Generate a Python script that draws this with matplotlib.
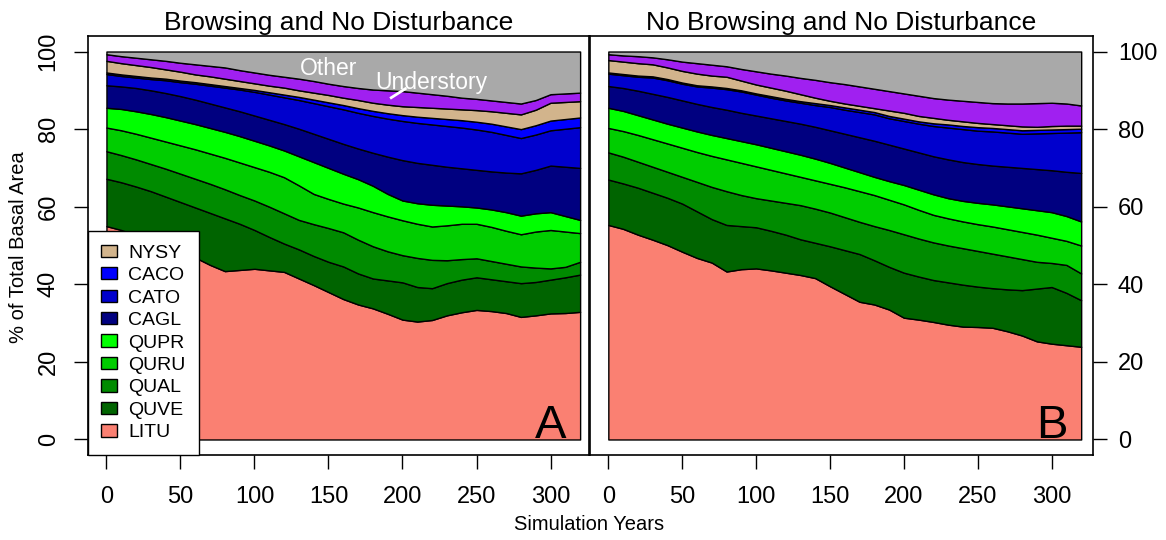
import numpy as np
import matplotlib
matplotlib.use("Agg")
import matplotlib.pyplot as plt
from matplotlib.patches import Patch

plt.rcParams['font.family'] = ['Liberation Sans', 'DejaVu Sans']

years = list(range(0, 321, 10))

# top of each layer (cumulative % of total basal area), panel A: browsing
a_litu = [55.0, 54.0, 52.7, 51.3, 50.0, 48.3, 46.9, 45.0, 43.4, 43.7, 44.0, 43.6, 43.2, 41.5, 39.8, 38.0, 36.2,
          34.8, 33.8, 32.4, 30.9, 30.4, 30.8, 32.0, 32.8, 33.4, 33.1, 32.6, 31.6, 32.0, 32.5, 32.6, 32.9]
a_quve = [67.2, 66.3, 65.2, 64.0, 62.6, 61.2, 59.8, 58.4, 57.0, 55.6, 54.0, 52.2, 50.5, 49.0, 47.3, 45.8, 44.6,
          42.8, 41.5, 41.0, 40.5, 39.3, 39.0, 40.3, 41.2, 41.8, 41.3, 40.8, 40.3, 40.6, 41.2, 41.8, 42.5]
a_qual = [74.3, 73.3, 72.2, 71.0, 69.8, 68.5, 67.2, 65.9, 64.5, 63.0, 61.6, 60.0, 58.3, 56.6, 55.5, 54.5, 53.4,
          51.5, 49.8, 48.5, 47.5, 46.8, 46.3, 46.2, 46.5, 46.7, 46.0, 45.3, 44.6, 44.3, 44.1, 44.5, 45.8]
a_quru = [80.4, 79.7, 78.8, 77.8, 76.8, 75.8, 74.8, 73.7, 72.6, 71.4, 70.2, 69.0, 67.6, 65.5, 63.3, 62.0, 60.8,
          59.8, 58.6, 57.5, 56.5, 55.6, 54.9, 55.2, 55.6, 55.6, 54.8, 53.8, 52.9, 53.6, 54.0, 53.6, 53.2]
a_qupr = [85.5, 85.2, 84.6, 83.9, 83.1, 82.2, 81.3, 80.3, 79.3, 78.2, 77.0, 75.8, 74.5, 73.0, 71.5, 70.0, 68.5,
          67.1, 65.4, 63.3, 61.6, 60.9, 60.5, 60.3, 60.1, 59.8, 59.3, 58.6, 57.7, 58.3, 58.6, 57.6, 56.6]
a_cagl = [91.3, 91.0, 90.6, 90.0, 89.3, 88.5, 87.6, 86.6, 85.6, 84.6, 83.5, 82.4, 81.3, 80.1, 78.8, 77.5, 76.2,
          75.0, 73.9, 72.9, 72.0, 71.3, 70.8, 70.3, 69.9, 69.5, 69.1, 68.8, 68.6, 69.5, 70.6, 70.3, 70.0]
a_cato = [94.2, 93.7, 93.3, 92.9, 92.6, 92.1, 91.7, 91.2, 90.7, 90.2, 89.6, 88.9, 88.2, 87.5, 86.7, 85.9, 85.1,
          84.2, 83.4, 82.7, 82.1, 81.6, 81.2, 80.8, 80.4, 79.9, 79.3, 78.5, 77.7, 78.6, 79.7, 80.1, 80.5]
a_caco = [94.6, 94.1, 93.7, 93.3, 93.0, 92.5, 92.1, 91.6, 91.1, 90.6, 90.1, 89.5, 88.9, 88.3, 87.6, 86.9, 86.2,
          85.4, 84.7, 84.1, 83.6, 83.2, 82.9, 82.6, 82.3, 81.9, 81.4, 80.7, 80.0, 81.0, 82.2, 82.6, 83.0]
a_nysy = [97.6, 97.0, 96.5, 96.0, 95.4, 94.8, 94.1, 93.6, 93.0, 92.4, 91.8, 91.2, 90.7, 90.0, 89.4, 88.8, 88.1,
          87.5, 86.8, 86.3, 85.9, 85.7, 85.5, 85.3, 85.1, 84.9, 84.6, 84.2, 83.8, 85.0, 86.8, 87.0, 87.2]
a_und = [99.3, 98.8, 98.4, 98.0, 97.6, 97.1, 96.7, 96.3, 95.9, 95.2, 94.6, 94.0, 93.5, 93.0, 92.4, 91.7, 91.1,
         90.6, 90.2, 90.0, 89.8, 89.4, 89.0, 88.6, 88.1, 87.8, 87.4, 87.0, 86.6, 87.5, 89.0, 89.2, 89.4]

# panel B: no browsing
b_litu = [55.3, 54.3, 52.8, 51.5, 50.1, 48.4, 46.8, 45.6, 43.3, 43.9, 44.1, 43.6, 43.0, 42.4, 41.6, 39.5, 37.5,
          35.5, 34.8, 33.5, 31.4, 30.9, 30.3, 29.6, 29.1, 29.0, 28.8, 27.9, 26.8, 25.3, 24.7, 24.3, 23.9]
b_quve = [67.0, 66.0, 64.9, 63.6, 62.3, 60.8, 58.8, 56.8, 55.3, 55.0, 54.7, 53.8, 52.8, 51.6, 50.7, 49.8, 48.8,
          47.8, 46.2, 44.5, 43.0, 42.0, 41.1, 40.5, 39.9, 39.4, 39.0, 38.7, 38.5, 38.9, 39.3, 37.8, 35.9]
b_qual = [74.0, 72.9, 71.6, 70.3, 69.0, 67.7, 66.4, 65.1, 64.0, 63.0, 62.2, 61.6, 61.0, 60.4, 59.5, 58.5, 57.3,
          56.1, 55.0, 54.0, 52.9, 51.8, 50.8, 50.0, 49.3, 48.6, 47.9, 47.2, 46.5, 45.8, 45.5, 45.0, 42.8]
b_quru = [80.3, 79.5, 78.5, 77.4, 76.3, 75.2, 74.1, 73.1, 72.2, 71.3, 70.4, 69.5, 68.6, 67.7, 66.8, 65.9, 65.0,
          64.0, 63.0, 61.8, 60.6, 59.2, 57.9, 57.0, 56.2, 55.5, 54.9, 54.2, 53.5, 52.8, 52.0, 51.2, 50.0]
b_qupr = [85.5, 84.7, 83.6, 82.5, 81.4, 80.4, 79.4, 78.5, 77.7, 76.9, 76.1, 75.2, 74.3, 73.4, 72.4, 71.3, 70.1,
          68.9, 67.7, 66.6, 65.6, 64.4, 63.2, 62.2, 61.5, 61.0, 60.6, 60.1, 59.6, 59.1, 58.6, 57.6, 56.2]
b_cagl = [91.1, 90.6, 89.9, 89.1, 88.3, 87.4, 86.5, 85.7, 85.0, 84.2, 83.5, 82.8, 82.1, 81.4, 80.6, 79.7, 78.8,
          77.9, 77.0, 76.0, 75.0, 74.0, 73.0, 72.2, 71.5, 71.0, 70.6, 70.3, 70.0, 69.7, 69.4, 69.0, 68.7]
b_cato = [94.3, 93.9, 93.5, 93.3, 92.6, 91.7, 91.0, 90.7, 90.3, 89.7, 88.9, 88.1, 87.4, 86.8, 86.2, 85.7, 85.0,
          84.4, 83.8, 82.8, 82.1, 81.4, 80.8, 80.4, 80.0, 79.6, 79.4, 79.1, 78.8, 78.9, 79.0, 79.1, 79.2]
b_caco = [94.6, 94.2, 93.8, 93.6, 92.9, 92.0, 91.3, 91.0, 90.6, 90.0, 89.2, 88.5, 87.8, 87.2, 86.7, 86.2, 85.6,
          85.0, 84.4, 83.4, 82.7, 82.0, 81.5, 81.2, 80.8, 80.5, 80.3, 80.0, 79.7, 79.8, 79.9, 80.0, 80.1]
b_nysy = [97.8, 97.4, 97.0, 96.7, 95.9, 95.0, 94.3, 93.8, 93.5, 92.5, 91.5, 90.7, 89.9, 89.0, 88.1, 87.3, 86.6,
          86.0, 85.4, 84.8, 84.2, 83.4, 82.9, 82.4, 82.0, 81.6, 81.3, 81.0, 80.7, 80.6, 80.8, 80.9, 80.9]
b_und = [99.3, 99.0, 98.8, 98.5, 98.0, 97.4, 97.0, 96.6, 96.2, 95.5, 94.9, 94.3, 93.8, 93.2, 92.7, 92.1, 91.6,
         91.0, 90.4, 89.8, 89.2, 88.6, 88.0, 87.6, 87.3, 87.0, 86.7, 86.6, 86.6, 86.7, 86.8, 86.6, 86.1]

species = ['LITU', 'QUVE', 'QUAL', 'QURU', 'QUPR', 'CAGL', 'CATO', 'CACO', 'NYSY', 'Understory', 'Other']
colors = ['#fa8072', '#006400', '#008b00', '#00cd00', '#00ff00', '#000080',
          '#0000cd', '#0000ff', '#d2b48c', '#a020f0', '#a9a9a9']


def panel(ax, tops):
    x = np.array(years)
    lower = np.zeros(len(x))
    for top, c in zip(tops + [[100] * len(x)], colors):
        top = np.array(top, dtype=float)
        ax.fill_between(x, lower, top, facecolor=c, edgecolor='black', linewidth=1.0)
        lower = top
    ax.set_xlim(-12.8, 326)
    ax.set_ylim(-4, 104)
    ax.set_xticks([0, 50, 100, 150, 200, 250, 300])
    ax.set_yticks([0, 20, 40, 60, 80, 100])
    ax.tick_params(length=10, width=1.0, labelsize=17, pad=12)
    for s in ax.spines.values():
        s.set_linewidth(1.2)


fig = plt.figure(figsize=(11.66, 5.4), dpi=100)
axA = fig.add_axes([87.5 / 1166, 85 / 540, 501.5 / 1166, 419 / 540])
axB = fig.add_axes([590 / 1166, 85 / 540, 503 / 1166, 419 / 540])

panel(axA, [a_litu, a_quve, a_qual, a_quru, a_qupr, a_cagl, a_cato, a_caco, a_nysy, a_und])
panel(axB, [b_litu, b_quve, b_qual, b_quru, b_qupr, b_cagl, b_cato, b_caco, b_nysy, b_und])
axB.set_xlim(-12.4, 328)

axA.tick_params(axis='y', labelrotation=90, pad=10)
for lab in axA.get_yticklabels():
    lab.set_va('center')
axB.yaxis.tick_right()
axB.tick_params(axis='y', pad=8)

axA.set_title('Browsing and No Disturbance', fontsize=19, pad=4)
axB.set_title('No Browsing and No Disturbance', fontsize=19, pad=4)

axA.text(300, 0.3, 'A', fontsize=34, ha='center', va='baseline')
axB.text(300, 0.3, 'B', fontsize=34, ha='center', va='baseline')

axA.text(150, 95.6, 'Other', color='white', fontsize=16.5, ha='center', va='center')
axA.text(219.5, 92.0, 'Understory', color='white', fontsize=16.5, ha='center', va='center')
axA.plot([192.4, 201.9], [88.1, 90.4], color='white', lw=2)

handles = [Patch(facecolor=colors[i], edgecolor='black', linewidth=1.0) for i in range(8, -1, -1)]
labels = [species[i] for i in range(8, -1, -1)]
leg = axA.legend(handles, labels, loc='lower left', fontsize=14, frameon=True, fancybox=False,
                 edgecolor='black', framealpha=1, borderaxespad=0, borderpad=0.7,
                 handlelength=0.8, handleheight=0.6, handletextpad=0.6, labelspacing=0.28)
leg.get_frame().set_linewidth(1.0)

fig.text(19 / 1166, 1 - 247 / 540, '% of Total Basal Area', rotation=90, fontsize=14.5,
         ha='center', va='center')
fig.text(589 / 1166, 1 - 525 / 540, 'Simulation Years', fontsize=14.5, ha='center', va='center')

fig.savefig('out.png', dpi=100)
